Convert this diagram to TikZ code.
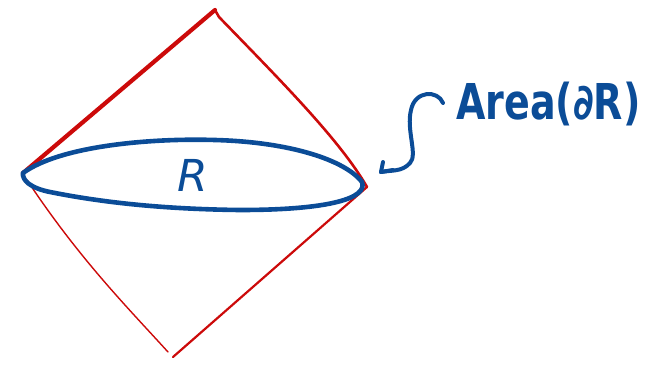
\documentclass[tikz,border=0pt]{standalone}
\usepackage{fontspec}
\setmainfont{DejaVu Sans}
\begin{document}
\begin{tikzpicture}[x=1pt,y=-1pt,
  redline/.style={draw=redpen, line cap=round, line join=round},
  blueline/.style={draw=bluepen, line width=4.6pt, line cap=round, line join=round},
  lbl/.style={text=bluepen, inner sep=0pt}]
\definecolor{bluepen}{HTML}{0B4C97}
\definecolor{redpen}{HTML}{CC0A0A}
\useasboundingbox (0,0) rectangle (656,367);
\coordinate (T) at (215,10);
\coordinate (L) at (23,173);
\coordinate (Rv) at (367,187);
\coordinate (B) at (173,357);
\coordinate (Bl) at (168,352);
\coordinate (S) at (443,103);
\coordinate (tip) at (381,172);
% diamond
\draw[redline, line width=4.2pt] (L) -- (T);
\draw[redline, line width=2.6pt] (T) -- (219,17) .. controls (280,80) and (340,140) .. (Rv);
\draw[redline, line width=1.4pt] (27,180) .. controls (80,260) and (130,310) .. (Bl);
\draw[redline, line width=2.2pt] (B) -- (Rv);
% ellipse
\draw[blueline] (L) .. controls (60,146) and (150,138) .. (215,140)
  .. controls (290,142) and (345,160) .. (362,182)
  .. controls (368,198) and (330,210) .. (240,210)
  .. controls (150,209) and (90,200) .. (50,192)
  .. controls (30,188) and (22,180) .. (L);
\node[lbl, font=\fontsize{44}{44}\selectfont\itshape] (r) at (193,175) {R};
% arrow
\draw[blueline, line width=4pt] (S) .. controls (438,90) and (415,90) .. (411,110)
  .. controls (406,130) and (418,155) .. (410,163)
  .. controls (402,172) and (392,170) .. (tip);
\draw[blueline, line width=4pt] (tip) -- (383,162);
\draw[blueline, line width=4pt] (tip) -- (393,170);
\node[lbl, font=\fontsize{38}{38}\selectfont\bfseries, anchor=west] (area) at (456,104) {\scalebox{1}[1.3]{Area(∂R)}};
\end{tikzpicture}
\end{document}
